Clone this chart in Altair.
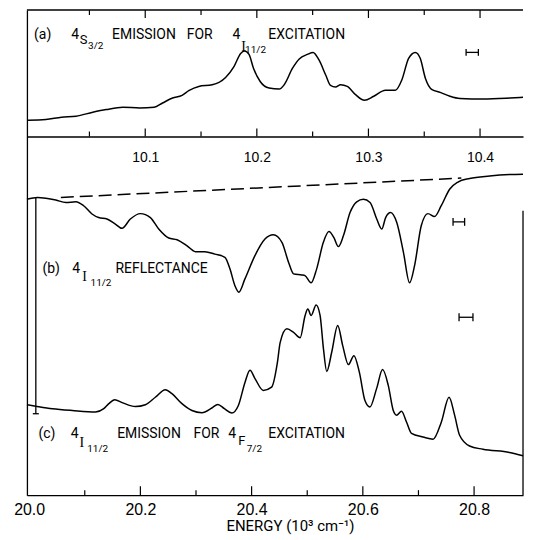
import altair as alt
import pandas as pd

# ---------------- data ----------------
# (a) 4S3/2 emission, energy in 10^3 cm^-1, intensity in arbitrary units (0-100)
A_E = [9.995, 10.011, 10.025, 10.038, 10.053, 10.065, 10.080, 10.095, 10.108, 10.1155,
       10.1245, 10.133, 10.139, 10.148, 10.160, 10.172, 10.1795, 10.1855, 10.189, 10.193,
       10.197, 10.203, 10.211, 10.220, 10.2245, 10.232, 10.238, 10.2453, 10.2504, 10.2557,
       10.2616, 10.266, 10.2705, 10.275, 10.281, 10.2884, 10.2964, 10.3048, 10.3152, 10.3241,
       10.330, 10.336, 10.342, 10.3464, 10.351, 10.357, 10.3643, 10.373, 10.382, 10.403,
       10.4268, 10.4385]
A_I = [12.9, 13.5, 15.3, 16.1, 19.2, 21.3, 23.1, 22.6, 23.1, 26.5,
       30.4, 32.5, 36.2, 39.6, 40.9, 46.7, 55.3, 65.7, 67.6, 64.9,
       54.0, 43.5, 38.3, 37.5, 40.9, 54.0, 61.3, 64.9, 66.5, 60.5,
       48.8, 40.4, 39.1, 40.9, 39.6, 33.1, 28.6, 31.8, 36.5, 36.5,
       44.9, 61.8, 66.5, 61.8, 46.1, 37.0, 34.9, 31.8, 30.0, 29.6,
       30.4, 31.0]

# (b) 4I11/2 reflectance
B_E = [19.996, 20.015, 20.030, 20.048, 20.066, 20.084, 20.098, 20.113, 20.125, 20.140,
       20.155, 20.167, 20.182, 20.200, 20.218, 20.233, 20.251, 20.266, 20.284, 20.299,
       20.316, 20.334, 20.352, 20.361, 20.370, 20.377, 20.388, 20.406, 20.424, 20.439,
       20.4545, 20.4665, 20.4755, 20.490, 20.496, 20.507, 20.517, 20.529, 20.539, 20.548,
       20.556, 20.565, 20.577, 20.589, 20.601, 20.613, 20.625, 20.634, 20.641, 20.650,
       20.661, 20.673, 20.684, 20.693, 20.705, 20.717, 20.729, 20.741, 20.756, 20.771,
       20.792, 20.828, 20.864, 20.888]
B_I = [82.5, 83.0, 82.8, 82.3, 81.6, 81.8, 80.7, 78.4, 77.4, 77.0,
       75.6, 74.4, 77.0, 78.5, 77.4, 74.2, 71.7, 71.2, 69.5, 67.9,
       67.9, 67.2, 66.3, 63.1, 58.4, 56.6, 60.3, 66.8, 71.4, 72.6,
       70.5, 64.9, 61.7, 61.4, 61.2, 59.2, 63.1, 70.5, 73.5, 71.8,
       69.3, 72.3, 78.8, 81.8, 82.5, 81.6, 77.0, 74.2, 77.4, 78.8,
       76.0, 67.7, 59.2, 64.0, 75.1, 78.5, 77.7, 80.7, 85.3, 87.3,
       88.3, 89.0, 89.4, 89.5]

# dashed baseline over (b)
DASH_E = [20.057, 20.777]
DASH_I = [83.0, 88.4]

# (c) 4I11/2 emission for 4F7/2 excitation
C_E = [19.996, 20.0118, 20.0418, 20.0776, 20.1194, 20.1342, 20.1432, 20.1539, 20.1672, 20.191,
       20.209, 20.2269, 20.2448, 20.2568, 20.2747, 20.2927, 20.3106, 20.3285, 20.3392, 20.3511,
       20.3643, 20.3762, 20.3882, 20.3971, 20.4061, 20.421, 20.436, 20.4464, 20.4514, 20.4634,
       20.4754, 20.4873, 20.4962, 20.5011, 20.507, 20.516, 20.5231, 20.5292, 20.5351, 20.5441,
       20.5548, 20.5638, 20.574, 20.584, 20.5937, 20.6038, 20.6127, 20.6247, 20.6355, 20.6457,
       20.6547, 20.6606, 20.6695, 20.6785, 20.6875, 20.7084, 20.7263, 20.7412, 20.755, 20.765,
       20.774, 20.7919, 20.8159, 20.8636, 20.888]
C_I = [25.2, 24.8, 24.1, 23.6, 23.2, 24.1, 25.5, 26.6, 25.8, 24.7,
       25.2, 27.3, 29.4, 28.3, 25.5, 23.6, 23.0, 24.3, 25.3, 24.1,
       22.9, 25.0, 31.5, 34.8, 32.5, 29.2, 30.1, 37.0, 42.6, 46.4,
       45.4, 43.9, 50.1, 51.9, 50.1, 53.0, 50.1, 40.8, 34.5, 39.9,
       47.3, 41.7, 36.4, 38.9, 34.3, 26.4, 24.6, 29.7, 35.0, 30.6,
       23.6, 22.3, 23.4, 20.4, 17.2, 16.2, 15.6, 20.4, 27.3, 22.3,
       16.7, 13.7, 12.8, 11.9, 11.0]

# resolution (error) bars: centre energy, half width, intensity, cap half height
ERR_A = (10.393, 0.0055, 66.5, 2.7)
ERR_B = (20.7726, 0.0104, 76.2, 1.1)
ERR_C = (20.7855, 0.0125, 49.6, 1.1)
# vertical intensity scale bar at left of lower panel
SCALE_E, SCALE_LO, SCALE_HI, SCALE_CAP = 20.012, 22.7, 83.0, 0.0054

# axis ticks
TOP_LABELS = [10.1, 10.2, 10.3, 10.4]
TOP_MINOR = [10.05, 10.15, 10.25, 10.35]
BOT_LABELS = [20.0, 20.2, 20.4, 20.6, 20.8]
BOT_MAJOR = [20.2, 20.4, 20.6, 20.8]
BOT_MINOR = [20.1, 20.3, 20.5, 20.7]

# annotation pieces: text, energy, intensity, font size, face (s = sans, r = serif)
A_TXT = ["(a)", "4", "S", "3/2", "EMISSION", "FOR", "4", "I", "11/2", "EXCITATION"]
A_TX = [10.0004, 10.0337, 10.0413, 10.0488, 10.0703, 10.1372, 10.1783, 10.186, 10.1895, 10.2103]
A_TY = [76.9, 76.9, 72.9, 68.9, 76.9, 76.9, 76.9, 67.6, 65.7, 76.9]
A_FS = [14, 14, 13, 10, 14, 14, 14, 14, 10, 14]
A_FF = ["s", "s", "s", "s", "s", "s", "s", "r", "s", "s"]

B_TXT = ["(b)", "4", "I", "11/2", "REFLECTANCE"]
B_TX = [20.0238, 20.0776, 20.0955, 20.1104, 20.1552]
B_TY = [61.9, 61.9, 59.8, 58.4, 61.9]
B_FS = [14, 14, 14, 10, 14]
B_FF = ["s", "s", "r", "s", "s"]

C_TXT = ["(c)", "4", "I", "11/2", "EMISSION", "FOR", "4", "F", "7/2", "EXCITATION"]
C_TX = [20.0167, 20.0746, 20.0907, 20.1045, 20.1582, 20.2955, 20.3582, 20.3762, 20.3912, 20.4299]
C_TY = [15.9, 15.9, 13.4, 12.0, 15.9, 15.9, 15.9, 13.9, 12.0, 15.9]
C_FS = [14, 14, 14, 10, 14, 14, 14, 13, 10, 14]
C_FF = ["s", "s", "r", "s", "s", "s", "s", "s", "s", "s"]

# ---------------- chart ----------------
W = 498
HT = 127
HB = 360
FONT = "Roboto"
SERIF = "Liberation Serif"
LFONT = "Liberation Sans"
LW = 1.5


def errbar(e, h, i, c):
    return [(e - h, e + h, i, i), (e - h, e - h, i - c, i + c), (e + h, e + h, i - c, i + c)]


def seg_df(rows):
    return pd.DataFrame(rows, columns=["E", "E2", "I", "I2"])


def txt_df(t, x, y, s, f):
    return pd.DataFrame({"t": t, "E": x, "I": y, "fs": s, "ff": f})


def panel(xdom, ydom, xaxis, curves, dashed, segs, texts, major, minor, top_border, maj_len, min_len, height):
    xs = alt.Scale(domain=xdom, nice=False, zero=False)
    ys = alt.Scale(domain=ydom, nice=False, zero=False)
    yaxis = alt.Axis(labels=False, ticks=False, domain=True, domainColor="black",
                     domainWidth=1.3, grid=False, title=None)
    X = alt.X("E:Q", scale=xs, axis=xaxis)
    Y = alt.Y("I:Q", scale=ys, axis=yaxis)
    layers = []
    for ce, ci in curves:
        layers.append(alt.Chart(pd.DataFrame({"E": ce, "I": ci})).mark_line(
            color="black", strokeWidth=LW, interpolate="monotone").encode(x=X, y=Y))
    if dashed is not None:
        layers.append(alt.Chart(pd.DataFrame({"E": dashed[0], "I": dashed[1]})).mark_line(
            color="black", strokeWidth=LW, strokeDash=[13, 6]).encode(x=X, y=Y))
    layers.append(alt.Chart(seg_df(segs)).mark_rule(color="black", strokeWidth=1.3).encode(
        x=X, x2="E2:Q", y=Y, y2="I2:Q"))
    tdf = txt_df(*texts)
    for face, fname in (("s", FONT), ("r", SERIF)):
        layers.append(alt.Chart(tdf).transform_filter(alt.datum.ff == face).mark_text(
            align="left", baseline="alphabetic", font=fname, color="black").encode(
            x=X, y=Y, text="t:N", size=alt.Size("fs:Q", scale=None)))
    # inward ticks on the bottom line
    layers.append(alt.Chart(pd.DataFrame({"E": major})).mark_rule(color="black", strokeWidth=1.2).encode(
        x=X, y=alt.value(height), y2=alt.value(height - maj_len)))
    layers.append(alt.Chart(pd.DataFrame({"E": minor})).mark_rule(color="black", strokeWidth=1.2).encode(
        x=X, y=alt.value(height), y2=alt.value(height - min_len)))
    if top_border:
        layers.append(alt.Chart(pd.DataFrame({"E": major})).mark_rule(color="black", strokeWidth=1.2).encode(
            x=X, y=alt.value(0), y2=alt.value(maj_len)))
        layers.append(alt.Chart(pd.DataFrame({"E": minor})).mark_rule(color="black", strokeWidth=1.2).encode(
            x=X, y=alt.value(0), y2=alt.value(min_len)))
        layers.append(alt.Chart(pd.DataFrame({"E": [xdom[0]]})).mark_rule(color="black", strokeWidth=1.3).encode(
            x=alt.value(0), x2=alt.value(W), y=alt.value(0)))
    else:
        layers.append(alt.Chart(pd.DataFrame({"E": [xdom[1]]})).mark_rule(color="black", strokeWidth=1.3).encode(
            x=alt.value(W), y=alt.datum(79.3), y2=alt.datum(0)))
    return alt.layer(*layers).properties(width=W, height=height)


top_axis = alt.Axis(values=TOP_LABELS, format=".1f", ticks=False, tickSize=0, labelPadding=14,
                    labelFontSize=14, labelFont=LFONT, labelColor="black", labelFlush=False,
                    domainColor="black", domainWidth=1.3, grid=False, title=None)
bot_axis = alt.Axis(values=BOT_LABELS, format=".1f", ticks=False, tickSize=0, labelPadding=6,
                    labelFontSize=16, labelFont=LFONT, labelColor="black", labelFlush=False,
                    domainColor="black", domainWidth=1.3, grid=False,
                    title="ENERGY (10³ cm⁻¹)", titleFont=FONT, titleFontSize=15,
                    titleFontWeight="normal", titleColor="black", titlePadding=2, titleX=264)

top = panel([9.994, 10.4385], [0, 100], top_axis, [(A_E, A_I)], None,
            errbar(*ERR_A), (A_TXT, A_TX, A_TY, A_FS, A_FF), TOP_LABELS, TOP_MINOR, True, 8, 5, HT)

low_segs = errbar(*ERR_B) + errbar(*ERR_C) + [
    (SCALE_E, SCALE_E, SCALE_LO, SCALE_HI),
    (SCALE_E - SCALE_CAP, SCALE_E + SCALE_CAP, SCALE_LO, SCALE_LO)]
low_texts = (B_TXT + C_TXT, B_TX + C_TX, B_TY + C_TY, B_FS + C_FS, B_FF + C_FF)
bottom = panel([19.996, 20.888], [0, 100], bot_axis, [(B_E, B_I), (C_E, C_I)], (DASH_E, DASH_I),
               low_segs, low_texts, BOT_MAJOR, BOT_MINOR, False, 9, 5, HB)

chart = alt.vconcat(top, bottom, spacing=0, bounds="flush").properties(
    padding={"left": 5, "top": 0, "right": 0, "bottom": 0}
).configure_view(stroke=None)

chart.save("out.html", embed_options={"renderer": "svg", "actions": False})
